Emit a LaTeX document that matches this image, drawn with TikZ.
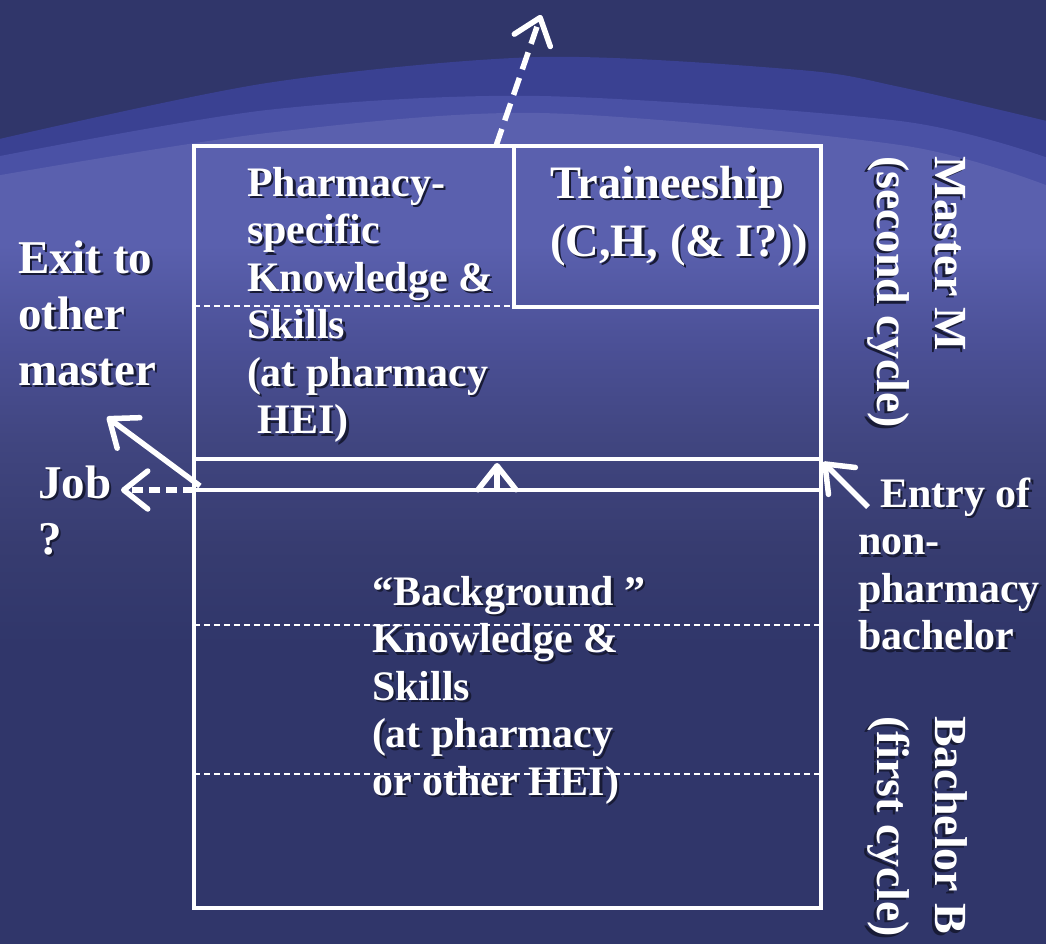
\documentclass[tikz,border=0pt]{standalone}
\usepackage{fontspec}
\setmainfont{Liberation Serif}
\usetikzlibrary{arrows.meta}
\definecolor{bgdark}{HTML}{30366A}
\definecolor{bandA}{HTML}{3A4192}
\definecolor{bandB}{HTML}{4A51A5}
\definecolor{bgla}{HTML}{5A60AE}
\definecolor{bglb}{HTML}{4B5096}
\definecolor{bglc}{HTML}{40457F}
\definecolor{bgld}{HTML}{373C70}
\definecolor{shadowc}{HTML}{181B36}
\pgfdeclareverticalshading{bgshade}{100bp}{color(0bp)=(bgdark); color(43bp)=(bgdark); color(49bp)=(bgld); color(55bp)=(bglc); color(61bp)=(bglb); color(67bp)=(bgla); color(100bp)=(bgla)}
\newcommand\shd[1]{\strut\rlap{\kern2.5pt\smash{\raisebox{-2.5pt}{\textcolor{shadowc}{#1}}}}#1}
\tikzset{
  lbl/.style={anchor=north west, inner sep=0pt, outer sep=0pt, text=white, align=left,
    font=\bfseries\fontsize{42}{47.5}\selectfont},
  lblbig/.style={lbl, font=\bfseries\fontsize{47}{56}\selectfont},
  lbltr/.style={lbl, font=\bfseries\fontsize{46.5}{58}\selectfont},
  lblrot/.style={lbl, font=\bfseries\fontsize{46}{58}\selectfont, rotate=-90},
  boxline/.style={white, line width=3.8pt},
  sepline/.style={white, line width=1.4pt, dash pattern=on 6pt off 4pt},
  arr/.style={white, line width=5.5pt, -{Straight Barb[length=24pt,width=38pt,round]}},
}
\begin{document}
\begin{tikzpicture}[x=1pt,y=-1pt]
\useasboundingbox (0,0) rectangle (1046,943);
% background
\fill[bgdark] (-5,-5) rectangle (1051,948);
\fill[bandA] plot[smooth] coordinates {(-5,140) (267,83) (540,57) (800,70) (900,87) (1051,122)} -- (1051,948) -- (-5,948) -- cycle;
\fill[bandB] plot[smooth] coordinates {(-5,157) (267,110) (540,96) (900,121) (1051,159)} -- (1051,948) -- (-5,948) -- cycle;
\shade[shading=bgshade] plot[smooth] coordinates {(-5,176) (267,133) (540,113) (900,145) (1051,187)} -- (1051,948) -- (-5,948) -- cycle;

% frames
\draw[boxline] (194,146) rectangle (821,908);
\draw[boxline] (194,459) -- (821,459);
\draw[boxline] (194,490) -- (821,490);
\draw[boxline] (514,146) -- (514,307) -- (821,307);

% texts
\node[lblbig] (exit) at (18,234) {\shd{Exit to}\\\shd{other}\\\shd{master}};
\node[lblbig] (job) at (38,459) {\shd{Job}\\\shd{?}};
\node[lbl] (pharm) at (247,163) {\shd{Pharmacy-}\\\shd{specific}\\\shd{Knowledge \&}\\\shd{Skills}\\\shd{(at pharmacy}\\\shd{\ HEI)}};
\node[lbltr] (train) at (550,157.5) {\shd{Traineeship}\\\shd{(C,H, (\& I?))}};
\node[lbl] (back) at (372,572) {\shd{“Background ”}\\\shd{Knowledge \&}\\\shd{Skills}\\\shd{(at pharmacy}\\\shd{or other HEI)}};
\node[lbl] (entry) at (858,474) {\shd{\hspace*{22pt}Entry of}\\\shd{non-}\\\shd{pharmacy}\\\shd{bachelor}};
\node[lblrot] (master) at (975.6,156) {\shd{Master M}\\\shd{(second cycle)}};
\node[lblrot] (bach) at (975.6,716) {\shd{Bachelor B}\\\shd{(first cycle)}};

% dashed separators
\draw[sepline] (194,306) -- (514,306);
\draw[sepline] (194,625) -- (821,625);
\draw[sepline] (194,774) -- (821,774);

% arrows
\coordinate (topS) at (496,146);
\coordinate (topT) at (541,15);
\coordinate (jobS) at (194,490);
\coordinate (jobT) at (121,490);
\coordinate (exS) at (200,486);
\coordinate (exT) at (107,417);
\coordinate (enS) at (868,507);
\coordinate (enT) at (823,462);
\coordinate (midS) at (497,490);
\coordinate (midT) at (497,463);
\draw[arr, dash pattern=on 18pt off 9pt] (topS) -- (topT);
\draw[arr, dash pattern=on 11pt off 6pt] (jobS) -- (jobT);
\draw[arr] (exS) -- (exT);
\draw[arr] (enS) -- (enT);
\draw[arr] (midS) -- (midT);
\end{tikzpicture}
\end{document}
